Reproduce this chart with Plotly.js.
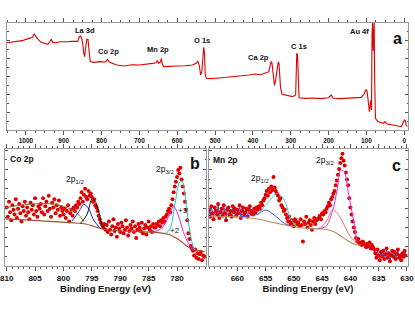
<!DOCTYPE html>
<html><head><meta charset="utf-8">
<script src="https://cdn.plot.ly/plotly-3.0.1.min.js"></script>
<style>html,body{margin:0;padding:0;background:#fff}#chart{width:415px;height:312px}</style>
</head><body><div id="chart"></div>
<script>
// ---- Panel a: survey spectrum (binding energy eV, intensity a.u.)
const surveyEnergy = [1050,1040,1030,1020,1010,1000,990,983,978,973,968,960,950,942,937,933,929,920,910,900,890,880,870,863,859,856,853,850,847,845,843,841,839,836,834,832,830,820,805,790,784,780,770,760,740,720,700,680,665,656,652,649,644,642,640,636,620,600,580,560,550,546,542,538,535,532,530,528,526,523,510,490,470,450,430,410,395,380,365,358,352,350,348,345,343,340,336,333,331,329,327,323,310,295,287,284,282,280,278,260,240,220,200,193,188,170,150,130,113,105,101,98,95,92,88,86.5,85,83.5,82,81,79.5,78,76,70,55,51,45,30,15,8,3,0,-3,-5,-8];
const surveyIntensity = [81.6,81.9,82.5,83.2,83.5,84.7,85.4,86.6,89.7,87.2,84.7,81.9,81,80.1,82.5,84.7,81.9,81.6,82.5,82.2,82.5,82.8,82.5,82.8,87.2,87.9,86.3,81,71.7,68.5,74.8,82.5,84.7,84.7,78.5,67,63.9,63.2,63.9,63.6,66,63.6,62.3,60.7,59.8,61,60.7,61.3,62.3,62.9,64.8,62.3,63.9,67,62.3,59.2,59.2,59.8,60.1,60.7,62.3,64.5,60.7,51.4,54.5,74.8,77.3,71.7,51.4,48.3,48,48.6,49.2,49.8,50.5,51.4,52.3,51.7,53.6,54.5,63.9,63.2,57.6,45.2,41.7,46.4,59.2,63.6,62.3,49.8,39.8,33.3,32.4,31.2,32.7,71.7,70.1,37.4,30.2,29.6,29.9,29.3,30.2,32.7,29.6,29.3,29.6,29.9,30.5,34.3,38,35.8,21.8,17.1,28,18.7,90,100,74,99,100,45.5,10.9,7.8,6.2,7.8,5.6,4.7,3.7,3.1,6.2,9.3,8.7,4.7,3.1];
const surveyLabels = ["La 3d","Co 2p","Mn 2p","O 1s","Ca 2p","C 1s","Au 4f"];
const surveyTicks = [1000,900,800,700,600,500,400,300,200,100,0];

// ---- Panel b: Co 2p
const coEnergy = [810,809.8,809.6,809.4,809.2,809,808.8,808.6,808.4,808.2,808,807.8,807.6,807.4,807.2,807,806.8,806.6,806.4,806.2,806,805.8,805.6,805.4,805.2,805,804.8,804.6,804.4,804.2,804,803.8,803.6,803.4,803.2,803,802.8,802.6,802.4,802.2,802,801.8,801.6,801.4,801.2,801,800.8,800.6,800.4,800.2,800,799.8,799.6,799.4,799.2,799,798.8,798.6,798.4,798.2,798,797.8,797.6,797.4,797.2,797,796.8,796.6,796.4,796.2,796,795.8,795.6,795.4,795.2,795,794.8,794.6,794.4,794.2,794,793.8,793.6,793.4,793.2,793,792.8,792.6,792.4,792.2,792,791.8,791.6,791.4,791.2,791,790.8,790.6,790.4,790.2,790,789.8,789.6,789.4,789.2,789,788.8,788.6,788.4,788.2,788,787.8,787.6,787.4,787.2,787,786.8,786.6,786.4,786.2,786,785.8,785.6,785.4,785.2,785,784.8,784.6,784.4,784.2,784,783.8,783.6,783.4,783.2,783,782.8,782.6,782.4,782.2,782,781.8,781.6,781.4,781.2,781,780.8,780.6,780.4,780.2,780,779.8,779.6,779.4,779.2,779,778.8,778.6,778.4,778.2,778,777.8,777.6,777.4,777.2,777,776.8,776.6,776.4,776.2,776,775.8,775.6,775.4,775.2];
const coIntensity = [50,42,55,46,39,52,48,44,57,41,49,53,45,38,51,47,55,43,50,46,40,54,48,52,44,58,47,42,51,49,
53,46,58,44,51,55,47,60,49,42,54,50,57,45,52,48,56,43,50,47,
44,49,41,47,52,38,45,48,43,50,
47,52,50,55,53,
58,63,55,61,66,59,57,64,60,62,
59,55,57,52,50,
47,43,40,37,35,
33,36,31,
35,29,38,31,27,34,40,30,33,25,36,32,29,37,34,28,31,39,33,26,30,35,32,38,29,34,24,31,36,33,30,37,28,32,35,27,33,38,31,34,29,36,33,
33,36,35,38,34,39,37,41,38,42,
44,47,49,46,52,
57,63,68,72,76,
82,79,84,
74,68,62,55,
48,39,28,
23,17,15,
13,9,14,7,11,6,10,12,5,9,8];
const coTicks = [810,805,800,795,790,785,780];
const coBgE = [810.2,804.3,798.5,796.1,794.7,793.2,789.7,783.9,781.5,780.4,779.2,778.3,777.4,775.7,775.1];
const coBgI = [40.2,38.7,37.0,35.9,34.0,31.6,29.9,28.8,27.1,24.5,20.8,17,14.5,12.8,12.6];
const coSatE = [810.2,807.3,804.3,801.4,799.1,797.6,796.4];
const coSatI = [49.8,52.1,53.3,52.7,49.3,45,38];
const coP1E = [798.5,797.3,796.4,795.6,794.7,793.5];
const coP1I = [38.4,46.4,52.7,49.3,39.3,32.2];
const coP2E = [797.0,795.9,794.9,794.1,793.2,792.6];
const coP2I = [36.5,43.6,57.8,52.1,35,31.6];
const co3E = [782.1,781.2,780.4,779.5,779.1,778.6,778.0,777.4,776.9];
const co3I = [27.1,32.2,52.1,72.1,72.6,60.7,37.9,20.8,13.7];
const co2E = [784.4,782.7,781.5,780.6,779.8,778.9,778.0,777.2];
const co2I = [28.8,32.2,42.1,50.7,43.6,29.3,19.4,13.7];

// ---- Panel c: Mn 2p
const mnEnergy = [665,664.8,664.6,664.4,664.2,664,663.8,663.6,663.4,663.2,663,662.8,662.6,662.4,662.2,662,661.8,661.6,661.4,661.2,661,660.8,660.6,660.4,660.2,660,659.8,659.6,659.4,659.2,659,658.8,658.6,658.4,658.2,658,657.8,657.6,657.4,657.2,657,656.8,656.6,656.4,656.2,656,655.8,655.6,655.4,655.2,655,654.8,654.6,654.4,654.2,654,653.8,653.6,653.4,653.2,653,652.8,652.6,652.4,652.2,652,651.8,651.6,651.4,651.2,651,650.8,650.6,650.4,650.2,650,649.8,649.6,649.4,649.2,649,648.8,648.6,648.4,648.2,648,647.8,647.6,647.4,647.2,647,646.8,646.6,646.4,646.2,646,645.8,645.6,645.4,645.2,645,644.8,644.6,644.4,644.2,644,643.8,643.6,643.4,643.2,643,642.8,642.6,642.4,642.2,642,641.8,641.6,641.4,641.2,641,640.8,640.6,640.4,640.2,640,639.8,639.6,639.4,639.2,639,638.8,638.6,638.4,638.2,638,637.8,637.6,637.4,637.2,637,636.8,636.6,636.4,636.2,636,635.8,635.6,635.4,635.2,635,634.8,634.6,634.4,634.2,634,633.8,633.6,633.4,633.2,633,632.8,632.6,632.4,632.2,632,631.8,631.6,631.4,631.2,631,630.8,630.6,630.4,630.2];
const mnIntensity = [48,42,51,45,40,50,47,44,53,41,46,49,43,52,45,39,48,50,44,47,42,51,46,49,43,48,45,52,41,47,50,44,46,49,42,48,51,45,47,44,49,46,50,48,
51,49,54,52,56,
58,61,64,60,66,63,68,65,76,67,64,62,
60,56,58,52,50,47,48,44,
41,38,42,36,39,37,34,40,38,36,
37,34,40,35,21,38,36,42,33,37,39,35,31,38,41,36,39,40,
41,43,40,45,44,47,46,49,
51,54,52,57,59,62,
64,69,73,78,83,
88,92,96,90,
86,80,74,69,
58,50,44,38,33,29,
24,21,23,19,20,18,21,19,
18,16,19,17,20,15,18,16,14,
11,7,14,9,5,12,8,13,6,10,15,7,11,4,9,13,8,12,6,10,14,7,9,5,11,8,13,9];
const mnTicks = [660,655,650,645,640,635,630];
const mnBgE = [665.3,659.4,656.4,653.5,650.6,647.6,644.7,642.9,641.1,639.4,638.2];
const mnBgI = [42.1,42.1,40.1,37.0,34.2,32.2,31.6,29.3,23.6,18.8,17.9];
const mnBlueE = [659.4,657.6,656.4,655.0,653.5,651.7,650.6];
const mnBlueI = [42.1,43,44.1,47.8,43.6,36.5,34.2];
const mnCyanE = [656.4,654.7,652.9,651.7,650.6,649.7];
const mnCyanI = [43.6,53.5,62.1,56.4,40.7,34.2];
const mnMagE = [645.8,644.4,643.2,642.3,641.7,641.1,640.3,639.4,638.8];
const mnMagI = [32.2,33.6,46.4,66.4,82.0,80.6,60.7,37.9,20.8];
const mnSalE = [645.3,644.1,643.2,642.3,641.1,640.0,638.8];
const mnSalI = [32.2,39.3,47.8,45,35,25,19.4];

const RED = '#e00000';
const FONT = 'Liberation Sans, Arial, sans-serif';

function line(x, y, color, xa, ya, w) {
  return {x: x, y: y, type: 'scatter', mode: 'lines', xaxis: xa, yaxis: ya,
    line: {color: color, width: w || 1, shape: 'spline', smoothing: 1}, hoverinfo: 'skip'};
}
function dots(x, y, xa, ya) {
  return {x: x, y: y, type: 'scatter', mode: 'markers', xaxis: xa, yaxis: ya,
    marker: {color: RED, size: 4, symbol: 'circle', line: {width: 0}}};
}
// blue raw-data line in the flat Mn 2p regions
const mnLeftE = [], mnLeftI = [], mnRightE = [], mnRightI = [];
mnEnergy.forEach((e, i) => {
  if (e >= 657.6) { mnLeftE.push(e); mnLeftI.push(mnIntensity[i]); }
  if (e <= 636.4) { mnRightE.push(e); mnRightI.push(mnIntensity[i]); }
});

const data = [
  {x: surveyEnergy, y: surveyIntensity, type: 'scatter', mode: 'lines', xaxis: 'x', yaxis: 'y',
   line: {color: RED, width: 1.1}},
  dots(coEnergy, coIntensity, 'x2', 'y2'),
  line(coBgE, coBgI, '#a0522d', 'x2', 'y2', 1.2),
  line(coSatE, coSatI, '#7a7a20', 'x2', 'y2', 1),
  line(coP1E, coP1I, '#1f2bd6', 'x2', 'y2', 1),
  line(coP2E, coP2I, '#111111', 'x2', 'y2', 1),
  line(co3E, co3I, '#19c8c8', 'x2', 'y2', 1),
  line(co2E, co2I, '#e020e0', 'x2', 'y2', 1),
  {x: mnLeftE, y: mnLeftI, type: 'scatter', mode: 'lines', xaxis: 'x3', yaxis: 'y3', line: {color: '#3a4be0', width: 1}},
  {x: mnRightE, y: mnRightI, type: 'scatter', mode: 'lines', xaxis: 'x3', yaxis: 'y3', line: {color: '#3a4be0', width: 1}},
  dots(mnEnergy, mnIntensity, 'x3', 'y3'),
  line(mnBgE, mnBgI, '#c08a5a', 'x3', 'y3', 1.1),
  line(mnBlueE, mnBlueI, '#4050e0', 'x3', 'y3', 1),
  line(mnCyanE, mnCyanI, '#40d0d0', 'x3', 'y3', 1),
  line(mnMagE, mnMagI, '#e030e0', 'x3', 'y3', 1),
  line(mnSalE, mnSalI, '#f07060', 'x3', 'y3', 1)
];

const frame = {showline: true, linecolor: '#9a9a9a', linewidth: 1, mirror: 'ticks', zeroline: false, showgrid: false};
const tickF = (s) => ({family: FONT, size: s, color: '#111', weight: 'bold'});

const layout = {
  width: 415, height: 312, margin: {l: 0, r: 0, t: 0, b: 0},
  paper_bgcolor: '#fff', plot_bgcolor: '#fff', showlegend: false,
  xaxis: Object.assign({}, frame, {domain: [7/415, 408/415], anchor: 'y', range: [1050, -10],
    tickmode: 'array', tickvals: surveyTicks, ticktext: surveyTicks.map(String), ticklabeloverflow: 'allow',
    ticks: 'outside', ticklen: 4, tickcolor: '#555',
    minor: {tickmode: 'linear', tick0: 0, dtick: 25, ticks: 'outside', ticklen: 2, tickcolor: '#555'},
    tickfont: tickF(6.5)}),
  yaxis: Object.assign({}, frame, {domain: [1-130/312, 1-23/312], anchor: 'x', range: [0, 100],
    tickmode: 'linear', tick0: 0, dtick: 100/6, ticks: 'inside', ticklen: 3, tickcolor: '#555',
    minor: {dtick: 100/12, ticks: 'inside', ticklen: 1.5, tickcolor: '#555'}, showticklabels: false}),
  xaxis2: Object.assign({}, frame, {domain: [5/415, 206/415], anchor: 'y2', range: [810.3, 774.9],
    tickmode: 'array', tickvals: coTicks, ticktext: coTicks.map(String), ticklabeloverflow: 'allow',
    ticks: 'outside', ticklen: 4, tickcolor: '#555',
    minor: {tickmode: 'linear', tick0: 780, dtick: 1, ticks: 'outside', ticklen: 2, tickcolor: '#555'},
    tickfont: tickF(8),
    title: {text: 'Binding Energy (eV)', font: {family: FONT, size: 9.5, color: '#111', weight: 'bold'}, standoff: 2}}),
  yaxis2: Object.assign({}, frame, {domain: [1-266/312, 1-149/312], anchor: 'x2', range: [0, 100],
    tickmode: 'linear', tick0: 0, dtick: 16.5, ticks: 'inside', ticklen: 3, tickcolor: '#555',
    minor: {dtick: 8.25, ticks: 'inside', ticklen: 1.5, tickcolor: '#555'}, showticklabels: false}),
  xaxis3: Object.assign({}, frame, {domain: [208.5/415, 407.5/415], anchor: 'y3', range: [665.1, 629.9],
    tickmode: 'array', tickvals: mnTicks, ticktext: mnTicks.map(String), ticklabeloverflow: 'allow',
    ticks: 'outside', ticklen: 4, tickcolor: '#555',
    minor: {tickmode: 'linear', tick0: 630, dtick: 1, ticks: 'outside', ticklen: 2, tickcolor: '#555'},
    tickfont: tickF(8),
    title: {text: 'Binding Energy (eV)', font: {family: FONT, size: 9.5, color: '#111', weight: 'bold'}, standoff: 2}}),
  yaxis3: Object.assign({}, frame, {domain: [1-266/312, 1-149/312], anchor: 'x3', range: [0, 100],
    tickmode: 'linear', tick0: 0, dtick: 16.5, ticks: 'inside', ticklen: 3, tickcolor: '#555',
    minor: {dtick: 8.25, ticks: 'inside', ticklen: 1.5, tickcolor: '#555'}, showticklabels: false}),
  annotations: []
};

function ann(text, px, py, size, bold) {
  layout.annotations.push({text: text, xref: 'paper', yref: 'paper', x: px/415, y: 1 - py/312,
    xanchor: 'center', yanchor: 'middle', showarrow: false,
    font: {family: FONT, size: size, color: '#111', weight: bold ? 'bold' : 'normal'}});
}
const surveyLabelPos = [[85,31],[108,52],[158,49],[202,40],[258,57],[299,46],[359,32]];
surveyLabels.forEach((t, i) => ann(t, surveyLabelPos[i][0], surveyLabelPos[i][1], 7.5, true));
ann('a', 397, 38, 16, true);
ann('Co 2p', 22, 159, 8.5, true);
ann('b', 195, 163, 16, true);
ann('2p<sub>1/2</sub>', 75, 180, 8.5, false);
ann('2p<sub>3/2</sub>', 165, 170, 8.5, false);
ann('+3', 183, 210, 8, false);
ann('+2', 175, 230, 8, false);
ann('Mn 2p', 225, 160, 8.5, true);
ann('c', 396, 165, 16, true);
ann('2p<sub>1/2</sub>', 260, 178, 8.5, false);
ann('2p<sub>3/2</sub>', 325, 160, 8.5, false);

Plotly.newPlot('chart', data, layout, {staticPlot: true, displayModeBar: false});
</script></body></html>
